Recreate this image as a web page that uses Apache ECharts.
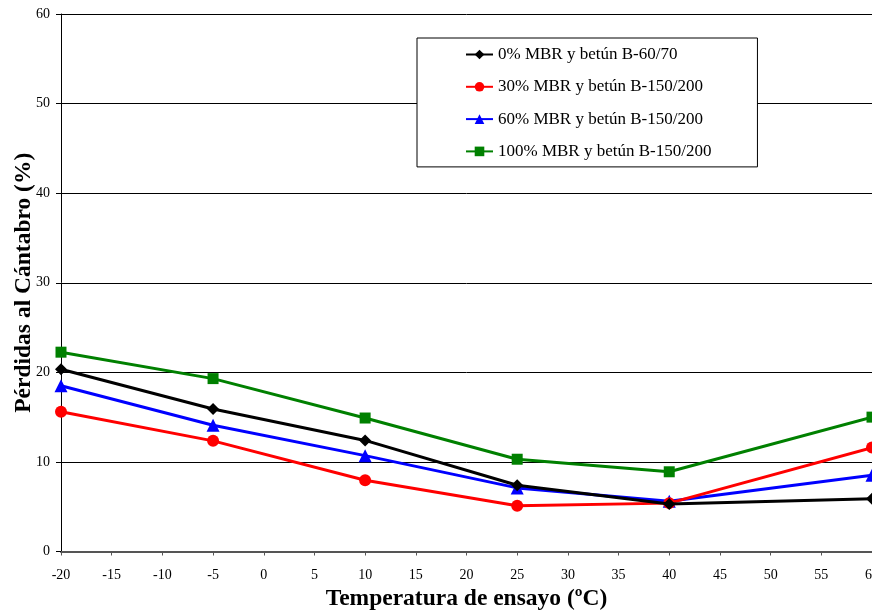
<!DOCTYPE html>
<html>
<head>
<meta charset="utf-8">
<script src="https://cdn.jsdelivr.net/npm/echarts@6/dist/echarts.min.js"></script>
<style>html,body{margin:0;padding:0;background:#fff}#c{width:872px;height:613px}</style>
</head>
<body>
<div id="c"></div>
<script>
const temps = [-20, -5, 10, 25, 40, 60];
const seriesNames = ['0% MBR y betún B-60/70', '30% MBR y betún B-150/200', '60% MBR y betún B-150/200', '100% MBR y betún B-150/200'];
const mbr0 = [20.35, 15.9, 12.4, 7.4, 5.3, 5.9];
const mbr30 = [15.6, 12.35, 7.95, 5.1, 5.4, 11.6];
const mbr60 = [18.5, 14.1, 10.7, 7.1, 5.6, 8.5];
const mbr100 = [22.25, 19.3, 14.9, 10.3, 8.9, 15.0];
const xTitle = 'Temperatura de ensayo (ºC)';
const yTitle = 'Pérdidas al Cántabro (%)';

const font = '"Liberation Serif", "Times New Roman", serif';
const colors = ['#000000', '#ff0000', '#0000ff', '#008000'];
const symbols = ['diamond', 'circle', 'triangle', 'rect'];
const sizes = [12, 12, 13, 11];
const dataSets = [mbr0, mbr30, mbr60, mbr100];

const chart = echarts.init(document.getElementById('c'), null, {renderer: 'canvas'});
chart.setOption({
  animation: false,
  backgroundColor: '#fff',
  grid: {left: 61, right: 0, top: 14, bottom: 61.5, containLabel: false, outerBoundsMode: 'none'},
  legend: {
    orient: 'vertical',
    left: 417, top: 38,
    padding: [8, 46, 7, 48],
    backgroundColor: '#fff',
    borderColor: '#000',
    borderWidth: 1,
    itemWidth: 27, itemHeight: 12,
    itemGap: 15.3,
    textStyle: {fontFamily: font, fontSize: 17, color: '#000', lineHeight: 17},
    data: seriesNames
  },
  xAxis: {
    type: 'value', min: -20, max: 60, interval: 5,
    name: xTitle, nameLocation: 'middle', nameGap: 35, nameMoveOverlap: false,
    nameTextStyle: {fontFamily: font, fontSize: 23.5, fontWeight: 'bold', color: '#000'},
    axisLine: {show: true, onZero: false, lineStyle: {color: '#555', width: 2}},
    axisTick: {show: true, inside: false, length: 4, lineStyle: {color: '#555'}},
    axisLabel: {fontFamily: font, fontSize: 14, color: '#000', margin: 17},
    splitLine: {show: false}
  },
  yAxis: {
    type: 'value', min: 0, max: 60, interval: 10,
    name: yTitle, nameLocation: 'middle', nameGap: 25, nameMoveOverlap: false,
    nameTextStyle: {fontFamily: font, fontSize: 23.5, fontWeight: 'bold', color: '#000'},
    axisLine: {show: true, onZero: false, lineStyle: {color: '#000', width: 1}},
    axisTick: {show: true, inside: false, length: 5, lineStyle: {color: '#000'}},
    axisLabel: {fontFamily: font, fontSize: 14, color: '#000', margin: 11},
    splitLine: {show: true, lineStyle: {color: '#000', width: 1}}
  },
  series: dataSets.map((d, i) => ({
    name: seriesNames[i],
    type: 'line',
    data: temps.map((t, j) => [t, d[j]]),
    symbol: symbols[i],
    symbolSize: sizes[i],
    showAllSymbol: true,
    clip: false,
    lineStyle: {color: colors[i], width: 3},
    itemStyle: {color: colors[i], borderWidth: 0},
    z: 10 - i
  }))
});
</script>
</body>
</html>
